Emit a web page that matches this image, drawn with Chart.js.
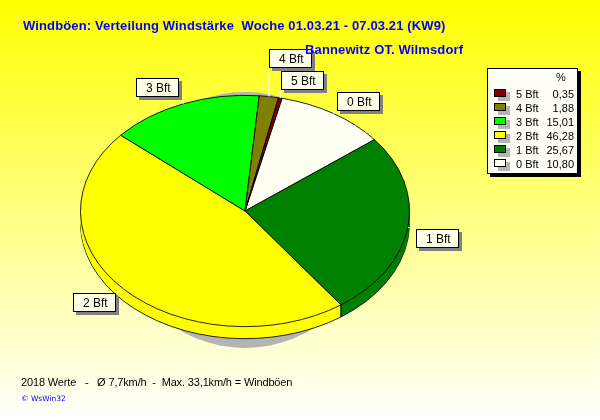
<!DOCTYPE html>
<html>
<head>
<meta charset="utf-8">
<script src="https://cdn.jsdelivr.net/npm/chart.js@4"></script>
<style>
body { margin: 0; background: #fff; }
canvas { display: block; }
</style>
</head>
<body>
<canvas id="pie" width="600" height="420"></canvas>
<script>
// values, clockwise from the 0 Bft slice
const categories = ["0 Bft", "1 Bft", "2 Bft", "3 Bft", "4 Bft", "5 Bft"]
const percents = [10.80, 25.67, 46.28, 15.01, 1.88, 0.35]
const sliceColors = ["#fffff4", "#008000", "#ffff00", "#00ff00", "#808000", "#800000"]
const titleText = "Windböen: Verteilung Windstärke  Woche 01.03.21 - 07.03.21 (KW9)"
const placeText = "Bannewitz OT. Wilmsdorf"
const footerText = "2018 Werte   -   Ø 7,7km/h  -  Max. 33,1km/h = Windböen"
const creditText = "© WsWin32"

// top left corner of each label box, same order as categories
const labelBoxes = [[337, 92], [416, 229], [73, 293], [136, 78], [269, 49], [281, 71]]

const squash = 0.703
const depth = 12
const pieX = 245
const pieY = 211

function fixText(ctx, font, color, spacing) {
    ctx.font = font
    ctx.fillStyle = color
    ctx.textBaseline = "alphabetic"
    ctx.textAlign = "left"
    ctx.letterSpacing = spacing || "0px"
}

function squashed(ctx, el, dy) {
    ctx.translate(pieX, pieY + dy)
    ctx.scale(1, squash)
    ctx.translate(-el.x, -el.y)
}

const pie3d = {
    id: "pie3d",
    beforeDraw(chart) {
        const ctx = chart.ctx
        const grad = ctx.createLinearGradient(0, 0, 0, 420)
        grad.addColorStop(0, "#ffff00")
        grad.addColorStop(1, "#ffffff")
        ctx.fillStyle = grad
        ctx.fillRect(0, 0, 600, 420)
    },
    beforeDatasetsDraw(chart) {
        const ctx = chart.ctx
        const arcs = chart.getDatasetMeta(0).data

        // grey shadow behind the pie
        ctx.fillStyle = "#b4b4b4"
        ctx.beginPath()
        ctx.arc(pieX, pieY + 9, 128, 0, Math.PI * 2)
        ctx.fill()

        // side wall: stacked copies of the slices
        for (let dy = depth; dy > 0; dy--) {
            arcs.forEach((el) => {
                ctx.save()
                squashed(ctx, el, dy)
                const w = el.options.borderWidth
                if (dy != depth) el.options.borderWidth = 0
                el.draw(ctx)
                el.options.borderWidth = w
                ctx.restore()
            })
        }

        // top face is drawn by chart.js inside this transform
        ctx.save()
        squashed(ctx, arcs[0], 0)
    },
    afterDatasetsDraw(chart) {
        const ctx = chart.ctx
        ctx.restore()
        const arcs = chart.getDatasetMeta(0).data

        // wall edge between 1 Bft and 2 Bft
        const a = arcs[1].endAngle
        const ex = pieX + Math.cos(a) * arcs[1].outerRadius
        const ey = pieY + Math.sin(a) * arcs[1].outerRadius * squash
        ctx.strokeStyle = "#000"
        ctx.lineWidth = 1
        ctx.beginPath()
        ctx.moveTo(ex, ey)
        ctx.lineTo(ex, ey + depth)
        ctx.stroke()

        // labels with leader lines
        arcs.forEach((el, i) => {
            const [bx, by] = labelBoxes[i]
            const mid = (el.startAngle + el.endAngle) / 2
            const rx = pieX + Math.cos(mid) * el.outerRadius
            const ry = pieY + Math.sin(mid) * el.outerRadius * squash
            const ax = rx < bx ? bx : Math.min(rx, bx + 43)
            const ay = ry < by ? by : Math.min(ry, by + 19)
            ctx.strokeStyle = "#fffff0"
            ctx.beginPath()
            ctx.moveTo(rx, ry)
            ctx.lineTo(ax, ay)
            ctx.stroke()

            ctx.fillStyle = "#808080"
            ctx.fillRect(bx + 3, by + 3, 43, 19)
            ctx.fillStyle = "#ffffe8"
            ctx.fillRect(bx, by, 43, 19)
            ctx.strokeStyle = "#000"
            ctx.strokeRect(bx + 0.5, by + 0.5, 42, 18)
            fixText(ctx, "12px 'Liberation Sans'", "#000")
            ctx.fillText(categories[i], bx + 10, by + 14)
        })

        // legend box
        ctx.fillStyle = "#000"
        ctx.fillRect(490, 71, 91, 106)
        ctx.fillStyle = "#fffff6"
        ctx.fillRect(487, 68, 91, 106)
        ctx.strokeStyle = "#000"
        ctx.strokeRect(487.5, 68.5, 90, 105)
        fixText(ctx, "11px 'Liberation Sans'", "#000")
        ctx.fillText("%", 556, 81)
        for (let i = 0; i < categories.length; i++) {
            const k = categories.length - 1 - i
            const y = 89 + i * 14
            ctx.fillStyle = "#b4b4b4"
            ctx.fillRect(498, y + 3, 12, 9)
            ctx.fillStyle = sliceColors[k]
            ctx.fillRect(494, y, 12, 8)
            ctx.strokeStyle = "#000"
            ctx.strokeRect(494.5, y + 0.5, 11, 7)
            fixText(ctx, "11px 'Liberation Sans'", "#000")
            ctx.fillText(categories[k], 516, y + 9)
            ctx.textAlign = "right"
            ctx.fillText(percents[k].toFixed(2).replace(".", ","), 574, y + 9)
        }

        // title and footer
        fixText(ctx, "bold 13px 'Liberation Sans'", "#0000ff", "0.13px")
        ctx.fillText(titleText, 23, 30)
        ctx.fillText(placeText, 305, 54)
        fixText(ctx, "11px 'Liberation Sans'", "#000", "-0.15px")
        ctx.fillText(footerText, 21, 386)
        fixText(ctx, "7.5px 'DejaVu Sans'", "#0000ff")
        ctx.fillText(creditText, 21, 401)
    }
}

new Chart(document.getElementById("pie"), {
    type: "pie",
    data: {
        labels: categories,
        datasets: [{
            data: percents,
            backgroundColor: sliceColors,
            borderColor: "#000",
            borderWidth: 1,
            borderAlign: "center"
        }]
    },
    options: {
        responsive: false,
        animation: false,
        rotation: 13,
        layout: { padding: { left: 0, right: 110, top: 45, bottom: 45 } },
        plugins: { legend: { display: false }, tooltip: { enabled: false }, title: { display: false } }
    },
    plugins: [pie3d]
})
</script>
</body>
</html>
